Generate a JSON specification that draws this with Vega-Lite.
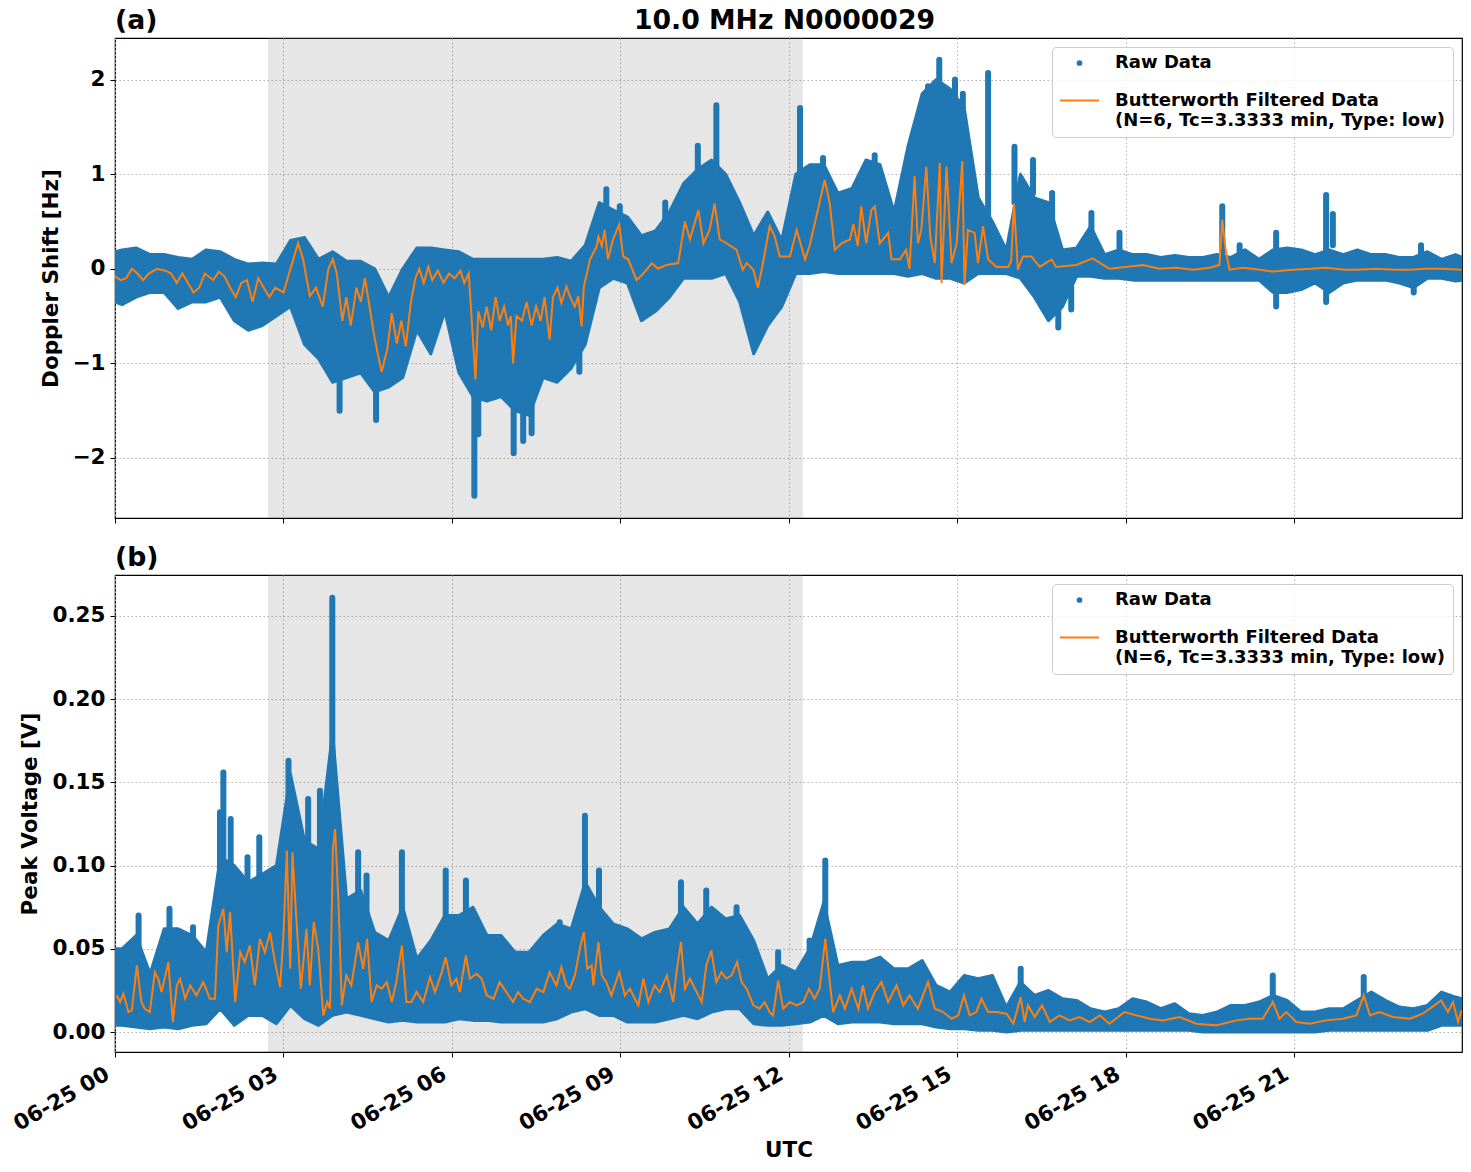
{
"$schema":"https://vega.github.io/schema/vega-lite/v6.json",
"background":"white",
"padding":{"left":9,"top":7,"right":9,"bottom":5},
"title":{"text":"10.0 MHz N0000029","anchor":"middle","frame":"group","offset":0,"dy":27,"dx":-4,"fontSize":26.7,"fontWeight":"bold","font":"DejaVu Sans","color":"black"},
"datasets":{
"shade":[{"s":2.725,"e":12.25}],
"topBand":[{"t":0,"lo":-0.35,"hi":0.18},{"t":0.125,"lo":-0.38,"hi":0.2},{"t":0.375,"lo":-0.3,"hi":0.22},{"t":0.625,"lo":-0.25,"hi":0.15},{"t":0.875,"lo":-0.25,"hi":0.15},{"t":1.125,"lo":-0.42,"hi":0.12},{"t":1.375,"lo":-0.35,"hi":0.1},{"t":1.625,"lo":-0.35,"hi":0.2},{"t":1.875,"lo":-0.3,"hi":0.18},{"t":2.125,"lo":-0.55,"hi":0.1},{"t":2.375,"lo":-0.65,"hi":0.05},{"t":2.625,"lo":-0.6,"hi":0.06},{"t":2.875,"lo":-0.5,"hi":0.05},{"t":3.125,"lo":-0.4,"hi":0.3},{"t":3.375,"lo":-0.8,"hi":0.33},{"t":3.625,"lo":-0.95,"hi":0.1},{"t":3.875,"lo":-1.2,"hi":0.18},{"t":4.125,"lo":-1.15,"hi":0.08},{"t":4.375,"lo":-1.1,"hi":0.08},{"t":4.625,"lo":-1.3,"hi":0.0},{"t":4.875,"lo":-1.25,"hi":-0.3},{"t":5.125,"lo":-1.15,"hi":0.0},{"t":5.375,"lo":-0.65,"hi":0.22},{"t":5.625,"lo":-0.9,"hi":0.22},{"t":5.875,"lo":-0.45,"hi":0.2},{"t":6.125,"lo":-1.1,"hi":0.18},{"t":6.375,"lo":-1.35,"hi":0.1},{"t":6.625,"lo":-1.4,"hi":0.1},{"t":6.875,"lo":-1.35,"hi":0.1},{"t":7.125,"lo":-1.5,"hi":0.1},{"t":7.375,"lo":-1.55,"hi":0.1},{"t":7.625,"lo":-1.15,"hi":0.1},{"t":7.875,"lo":-1.2,"hi":0.12},{"t":8.125,"lo":-1.05,"hi":0.08},{"t":8.375,"lo":-0.8,"hi":0.25},{"t":8.625,"lo":-0.2,"hi":0.7},{"t":8.875,"lo":-0.1,"hi":0.62},{"t":9.125,"lo":-0.15,"hi":0.55},{"t":9.375,"lo":-0.55,"hi":0.35},{"t":9.625,"lo":-0.45,"hi":0.4},{"t":9.875,"lo":-0.3,"hi":0.6},{"t":10.125,"lo":-0.1,"hi":0.9},{"t":10.375,"lo":-0.1,"hi":1.05},{"t":10.625,"lo":-0.1,"hi":1.15},{"t":10.875,"lo":-0.05,"hi":1.0},{"t":11.125,"lo":-0.35,"hi":0.7},{"t":11.375,"lo":-0.9,"hi":0.35},{"t":11.625,"lo":-0.6,"hi":0.6},{"t":11.875,"lo":-0.4,"hi":0.3},{"t":12.125,"lo":-0.05,"hi":1.0},{"t":12.375,"lo":-0.05,"hi":1.1},{"t":12.625,"lo":-0.03,"hi":1.1},{"t":12.875,"lo":-0.05,"hi":0.8},{"t":13.125,"lo":-0.05,"hi":0.85},{"t":13.375,"lo":-0.05,"hi":1.15},{"t":13.625,"lo":-0.05,"hi":1.1},{"t":13.875,"lo":-0.05,"hi":0.6},{"t":14.125,"lo":-0.08,"hi":1.3},{"t":14.375,"lo":-0.05,"hi":1.85},{"t":14.625,"lo":-0.1,"hi":2.0},{"t":14.875,"lo":-0.1,"hi":1.9},{"t":15.125,"lo":-0.15,"hi":1.7},{"t":15.375,"lo":-0.05,"hi":0.75},{"t":15.625,"lo":-0.05,"hi":0.5},{"t":15.875,"lo":-0.05,"hi":0.2},{"t":16.125,"lo":-0.1,"hi":1.0},{"t":16.375,"lo":-0.3,"hi":0.75},{"t":16.625,"lo":-0.55,"hi":0.7},{"t":16.875,"lo":-0.4,"hi":0.2},{"t":17.125,"lo":-0.08,"hi":0.22},{"t":17.375,"lo":-0.08,"hi":0.45},{"t":17.625,"lo":-0.1,"hi":0.15},{"t":17.875,"lo":-0.1,"hi":0.2},{"t":18.125,"lo":-0.12,"hi":0.15},{"t":18.375,"lo":-0.12,"hi":0.15},{"t":18.625,"lo":-0.12,"hi":0.12},{"t":18.875,"lo":-0.12,"hi":0.14},{"t":19.125,"lo":-0.12,"hi":0.12},{"t":19.375,"lo":-0.12,"hi":0.12},{"t":19.625,"lo":-0.12,"hi":0.15},{"t":19.875,"lo":-0.12,"hi":0.12},{"t":20.125,"lo":-0.12,"hi":0.2},{"t":20.375,"lo":-0.12,"hi":0.1},{"t":20.625,"lo":-0.25,"hi":0.2},{"t":20.875,"lo":-0.25,"hi":0.22},{"t":21.125,"lo":-0.22,"hi":0.2},{"t":21.375,"lo":-0.15,"hi":0.15},{"t":21.625,"lo":-0.25,"hi":0.2},{"t":21.875,"lo":-0.15,"hi":0.15},{"t":22.125,"lo":-0.12,"hi":0.2},{"t":22.375,"lo":-0.12,"hi":0.15},{"t":22.625,"lo":-0.12,"hi":0.15},{"t":22.875,"lo":-0.15,"hi":0.12},{"t":23.125,"lo":-0.2,"hi":0.12},{"t":23.375,"lo":-0.1,"hi":0.18},{"t":23.625,"lo":-0.1,"hi":0.1},{"t":23.875,"lo":-0.13,"hi":0.15},{"t":23.99,"lo":-0.12,"hi":0.12}],
"topSpike":[{"t":4.0,"lo":-1.5,"hi":-1.0},{"t":4.65,"lo":-1.6,"hi":-1.2},{"t":6.4,"lo":-2.4,"hi":-1.2},{"t":6.47,"lo":-1.75,"hi":-1.2},{"t":7.1,"lo":-1.95,"hi":-1.3},{"t":7.27,"lo":-1.82,"hi":-1.3},{"t":7.42,"lo":-1.74,"hi":-1.3},{"t":8.27,"lo":-1.09,"hi":-0.8},{"t":8.75,"lo":0.5,"hi":0.84},{"t":8.99,"lo":0.4,"hi":0.66},{"t":9.8,"lo":0.4,"hi":0.7},{"t":10.38,"lo":0.9,"hi":1.3},{"t":10.71,"lo":1.0,"hi":1.73},{"t":12.2,"lo":1.0,"hi":1.7},{"t":12.61,"lo":1.0,"hi":1.17},{"t":13.53,"lo":1.0,"hi":1.2},{"t":14.27,"lo":1.2,"hi":1.35},{"t":14.48,"lo":1.5,"hi":1.93},{"t":14.68,"lo":1.6,"hi":2.21},{"t":14.96,"lo":1.5,"hi":2.0},{"t":15.1,"lo":1.4,"hi":1.85},{"t":15.55,"lo":0.5,"hi":2.07},{"t":16.02,"lo":0.7,"hi":1.29},{"t":16.35,"lo":0.8,"hi":1.15},{"t":16.69,"lo":0.5,"hi":0.8},{"t":16.8,"lo":-0.62,"hi":-0.4},{"t":17.03,"lo":-0.43,"hi":-0.2},{"t":17.39,"lo":0.3,"hi":0.59},{"t":17.89,"lo":0.2,"hi":0.38},{"t":19.72,"lo":0.1,"hi":0.66},{"t":20.03,"lo":0.1,"hi":0.25},{"t":20.68,"lo":0.15,"hi":0.38},{"t":20.68,"lo":-0.4,"hi":-0.2},{"t":21.57,"lo":0.2,"hi":0.78},{"t":21.69,"lo":0.25,"hi":0.58},{"t":21.57,"lo":-0.35,"hi":-0.2},{"t":23.13,"lo":-0.25,"hi":-0.15},{"t":23.26,"lo":0.15,"hi":0.25}],
"topLine":[{"t":0.0,"f":-0.08},{"t":0.1,"f":-0.12},{"t":0.2,"f":-0.1},{"t":0.3,"f":0.0},{"t":0.4,"f":-0.05},{"t":0.5,"f":-0.12},{"t":0.6,"f":-0.05},{"t":0.75,"f":0.0},{"t":0.9,"f":-0.02},{"t":1.0,"f":-0.05},{"t":1.1,"f":-0.15},{"t":1.2,"f":-0.05},{"t":1.3,"f":-0.15},{"t":1.4,"f":-0.25},{"t":1.5,"f":-0.2},{"t":1.6,"f":-0.05},{"t":1.75,"f":-0.12},{"t":1.85,"f":-0.03},{"t":1.95,"f":-0.08},{"t":2.05,"f":-0.2},{"t":2.15,"f":-0.3},{"t":2.25,"f":-0.15},{"t":2.35,"f":-0.12},{"t":2.45,"f":-0.35},{"t":2.55,"f":-0.1},{"t":2.65,"f":-0.2},{"t":2.75,"f":-0.3},{"t":2.85,"f":-0.2},{"t":3.0,"f":-0.25},{"t":3.1,"f":-0.05},{"t":3.2,"f":0.15},{"t":3.26,"f":0.27},{"t":3.35,"f":0.1},{"t":3.47,"f":-0.29},{"t":3.58,"f":-0.2},{"t":3.7,"f":-0.4},{"t":3.8,"f":0.0},{"t":3.88,"f":0.1},{"t":3.95,"f":-0.05},{"t":4.05,"f":-0.55},{"t":4.12,"f":-0.3},{"t":4.2,"f":-0.6},{"t":4.3,"f":-0.2},{"t":4.38,"f":-0.35},{"t":4.45,"f":-0.1},{"t":4.52,"f":-0.35},{"t":4.6,"f":-0.65},{"t":4.68,"f":-0.9},{"t":4.75,"f":-1.09},{"t":4.85,"f":-0.85},{"t":4.93,"f":-0.47},{"t":5.02,"f":-0.79},{"t":5.1,"f":-0.55},{"t":5.18,"f":-0.82},{"t":5.27,"f":-0.35},{"t":5.35,"f":-0.1},{"t":5.42,"f":0.0},{"t":5.5,"f":-0.15},{"t":5.58,"f":0.02},{"t":5.65,"f":-0.12},{"t":5.75,"f":-0.02},{"t":5.85,"f":-0.15},{"t":5.95,"f":-0.05},{"t":6.05,"f":-0.1},{"t":6.15,"f":-0.02},{"t":6.22,"f":-0.15},{"t":6.3,"f":-0.05},{"t":6.37,"f":-0.7},{"t":6.42,"f":-1.17},{"t":6.47,"f":-0.45},{"t":6.55,"f":-0.62},{"t":6.62,"f":-0.4},{"t":6.7,"f":-0.65},{"t":6.78,"f":-0.3},{"t":6.85,"f":-0.55},{"t":6.93,"f":-0.4},{"t":7.0,"f":-0.6},{"t":7.05,"f":-0.5},{"t":7.09,"f":-1.0},{"t":7.15,"f":-0.5},{"t":7.25,"f":-0.55},{"t":7.33,"f":-0.35},{"t":7.42,"f":-0.6},{"t":7.5,"f":-0.4},{"t":7.58,"f":-0.55},{"t":7.65,"f":-0.3},{"t":7.74,"f":-0.75},{"t":7.8,"f":-0.3},{"t":7.88,"f":-0.2},{"t":7.95,"f":-0.36},{"t":8.04,"f":-0.19},{"t":8.1,"f":-0.29},{"t":8.19,"f":-0.4},{"t":8.25,"f":-0.29},{"t":8.31,"f":-0.61},{"t":8.35,"f":-0.19},{"t":8.46,"f":0.1},{"t":8.58,"f":0.24},{"t":8.61,"f":0.34},{"t":8.67,"f":0.24},{"t":8.72,"f":0.41},{"t":8.78,"f":0.1},{"t":8.87,"f":0.31},{"t":8.98,"f":0.47},{"t":9.05,"f":0.13},{"t":9.14,"f":0.1},{"t":9.29,"f":-0.12},{"t":9.41,"f":-0.05},{"t":9.56,"f":0.06},{"t":9.67,"f":0.0},{"t":9.82,"f":0.04},{"t":10.03,"f":0.06},{"t":10.15,"f":0.5},{"t":10.24,"f":0.31},{"t":10.39,"f":0.62},{"t":10.48,"f":0.27},{"t":10.59,"f":0.41},{"t":10.68,"f":0.69},{"t":10.77,"f":0.31},{"t":10.89,"f":0.27},{"t":11.07,"f":0.2},{"t":11.18,"f":-0.01},{"t":11.25,"f":0.06},{"t":11.37,"f":-0.01},{"t":11.45,"f":-0.2},{"t":11.54,"f":0.06},{"t":11.66,"f":0.45},{"t":11.75,"f":0.34},{"t":11.84,"f":0.13},{"t":12.02,"f":0.13},{"t":12.14,"f":0.41},{"t":12.29,"f":0.1},{"t":12.37,"f":0.24},{"t":12.49,"f":0.55},{"t":12.64,"f":0.94},{"t":12.73,"f":0.69},{"t":12.82,"f":0.2},{"t":12.94,"f":0.27},{"t":13.09,"f":0.31},{"t":13.15,"f":0.47},{"t":13.23,"f":0.24},{"t":13.29,"f":0.66},{"t":13.38,"f":0.27},{"t":13.47,"f":0.62},{"t":13.53,"f":0.66},{"t":13.62,"f":0.27},{"t":13.77,"f":0.38},{"t":13.83,"f":0.1},{"t":13.98,"f":0.1},{"t":14.09,"f":0.2},{"t":14.15,"f":0.0},{"t":14.24,"f":0.98},{"t":14.3,"f":0.27},{"t":14.36,"f":0.41},{"t":14.45,"f":1.08},{"t":14.52,"f":0.34},{"t":14.6,"f":0.06},{"t":14.69,"f":1.12},{"t":14.72,"f":-0.15},{"t":14.81,"f":1.08},{"t":14.9,"f":0.06},{"t":14.99,"f":0.27},{"t":15.09,"f":1.14},{"t":15.13,"f":-0.17},{"t":15.19,"f":0.41},{"t":15.31,"f":0.38},{"t":15.37,"f":0.06},{"t":15.46,"f":0.45},{"t":15.55,"f":0.1},{"t":15.7,"f":0.02},{"t":15.91,"f":0.02},{"t":15.96,"f":0.08},{"t":16.01,"f":0.69},{"t":16.08,"f":-0.01},{"t":16.17,"f":0.13},{"t":16.32,"f":0.13},{"t":16.47,"f":0.02},{"t":16.68,"f":0.1},{"t":16.76,"f":0.02},{"t":17.12,"f":0.04},{"t":17.41,"f":0.11},{"t":17.71,"f":0.0},{"t":18.0,"f":0.02},{"t":18.31,"f":0.04},{"t":18.6,"f":0.0},{"t":18.9,"f":0.01},{"t":19.2,"f":-0.01},{"t":19.5,"f":0.01},{"t":19.67,"f":0.04},{"t":19.72,"f":0.52},{"t":19.78,"f":0.2},{"t":19.85,"f":-0.01},{"t":20.09,"f":0.01},{"t":20.4,"f":-0.01},{"t":20.62,"f":-0.03},{"t":20.98,"f":-0.01},{"t":21.3,"f":0.0},{"t":21.57,"f":0.01},{"t":21.9,"f":-0.01},{"t":22.11,"f":-0.01},{"t":22.46,"f":0.0},{"t":22.8,"f":-0.01},{"t":23.06,"f":-0.01},{"t":23.35,"f":0.0},{"t":23.65,"f":0.0},{"t":23.98,"f":-0.01}],
"botBand":[{"t":0,"lo":0.004,"hi":0.05},{"t":0.125,"lo":0.004,"hi":0.05},{"t":0.375,"lo":0.003,"hi":0.058},{"t":0.625,"lo":0.002,"hi":0.035},{"t":0.875,"lo":0.003,"hi":0.062},{"t":1.125,"lo":0.002,"hi":0.062},{"t":1.375,"lo":0.004,"hi":0.058},{"t":1.625,"lo":0.005,"hi":0.048},{"t":1.875,"lo":0.014,"hi":0.105},{"t":2.125,"lo":0.004,"hi":0.1},{"t":2.375,"lo":0.01,"hi":0.09},{"t":2.625,"lo":0.01,"hi":0.095},{"t":2.875,"lo":0.005,"hi":0.1},{"t":3.125,"lo":0.016,"hi":0.155},{"t":3.375,"lo":0.008,"hi":0.115},{"t":3.625,"lo":0.004,"hi":0.11},{"t":3.875,"lo":0.01,"hi":0.18},{"t":4.125,"lo":0.012,"hi":0.08},{"t":4.375,"lo":0.01,"hi":0.085},{"t":4.625,"lo":0.008,"hi":0.06},{"t":4.875,"lo":0.006,"hi":0.055},{"t":5.125,"lo":0.007,"hi":0.075},{"t":5.375,"lo":0.006,"hi":0.044},{"t":5.625,"lo":0.006,"hi":0.055},{"t":5.875,"lo":0.006,"hi":0.07},{"t":6.125,"lo":0.008,"hi":0.07},{"t":6.375,"lo":0.007,"hi":0.075},{"t":6.625,"lo":0.007,"hi":0.058},{"t":6.875,"lo":0.006,"hi":0.058},{"t":7.125,"lo":0.006,"hi":0.048},{"t":7.375,"lo":0.006,"hi":0.048},{"t":7.625,"lo":0.006,"hi":0.058},{"t":7.875,"lo":0.008,"hi":0.065},{"t":8.125,"lo":0.012,"hi":0.062},{"t":8.375,"lo":0.014,"hi":0.09},{"t":8.625,"lo":0.01,"hi":0.075},{"t":8.875,"lo":0.01,"hi":0.065},{"t":9.125,"lo":0.006,"hi":0.062},{"t":9.375,"lo":0.006,"hi":0.056},{"t":9.625,"lo":0.006,"hi":0.06},{"t":9.875,"lo":0.008,"hi":0.062},{"t":10.125,"lo":0.01,"hi":0.075},{"t":10.375,"lo":0.008,"hi":0.065},{"t":10.625,"lo":0.012,"hi":0.075},{"t":10.875,"lo":0.014,"hi":0.068},{"t":11.125,"lo":0.014,"hi":0.07},{"t":11.375,"lo":0.005,"hi":0.055},{"t":11.625,"lo":0.004,"hi":0.032},{"t":11.875,"lo":0.004,"hi":0.04},{"t":12.125,"lo":0.005,"hi":0.036},{"t":12.375,"lo":0.006,"hi":0.05},{"t":12.625,"lo":0.01,"hi":0.078},{"t":12.875,"lo":0.005,"hi":0.04},{"t":13.125,"lo":0.006,"hi":0.042},{"t":13.375,"lo":0.006,"hi":0.042},{"t":13.625,"lo":0.006,"hi":0.045},{"t":13.875,"lo":0.005,"hi":0.038},{"t":14.125,"lo":0.005,"hi":0.038},{"t":14.375,"lo":0.005,"hi":0.043},{"t":14.625,"lo":0.003,"hi":0.028},{"t":14.875,"lo":0.002,"hi":0.024},{"t":15.125,"lo":0.002,"hi":0.034},{"t":15.375,"lo":0.001,"hi":0.032},{"t":15.625,"lo":0.001,"hi":0.034},{"t":15.875,"lo":0.0,"hi":0.015},{"t":16.125,"lo":0.001,"hi":0.03},{"t":16.375,"lo":0.001,"hi":0.022},{"t":16.625,"lo":0.001,"hi":0.025},{"t":16.875,"lo":0.001,"hi":0.02},{"t":17.125,"lo":0.001,"hi":0.019},{"t":17.375,"lo":0.001,"hi":0.014},{"t":17.625,"lo":0.001,"hi":0.012},{"t":17.875,"lo":0.001,"hi":0.014},{"t":18.125,"lo":0.001,"hi":0.02},{"t":18.375,"lo":0.001,"hi":0.018},{"t":18.625,"lo":0.001,"hi":0.014},{"t":18.875,"lo":0.001,"hi":0.017},{"t":19.125,"lo":0.001,"hi":0.011},{"t":19.375,"lo":0.0,"hi":0.01},{"t":19.625,"lo":0.0,"hi":0.012},{"t":19.875,"lo":0.0,"hi":0.016},{"t":20.125,"lo":0.0,"hi":0.016},{"t":20.375,"lo":0.0,"hi":0.018},{"t":20.625,"lo":0.0,"hi":0.022},{"t":20.875,"lo":0.0,"hi":0.019},{"t":21.125,"lo":0.0,"hi":0.012},{"t":21.375,"lo":0.0,"hi":0.012},{"t":21.625,"lo":0.001,"hi":0.014},{"t":21.875,"lo":0.001,"hi":0.014},{"t":22.125,"lo":0.001,"hi":0.019},{"t":22.375,"lo":0.001,"hi":0.024},{"t":22.625,"lo":0.001,"hi":0.019},{"t":22.875,"lo":0.001,"hi":0.015},{"t":23.125,"lo":0.001,"hi":0.014},{"t":23.375,"lo":0.001,"hi":0.016},{"t":23.625,"lo":0.004,"hi":0.024},{"t":23.875,"lo":0.004,"hi":0.021},{"t":23.99,"lo":0.004,"hi":0.02}],
"botSpike":[{"t":0.42,"lo":0.03,"hi":0.07},{"t":0.97,"lo":0.03,"hi":0.074},{"t":1.39,"lo":0.03,"hi":0.063},{"t":1.93,"lo":0.06,"hi":0.156},{"t":1.87,"lo":0.06,"hi":0.132},{"t":2.06,"lo":0.05,"hi":0.128},{"t":2.36,"lo":0.05,"hi":0.105},{"t":2.57,"lo":0.05,"hi":0.117},{"t":3.09,"lo":0.05,"hi":0.163},{"t":3.44,"lo":0.05,"hi":0.14},{"t":3.65,"lo":0.05,"hi":0.145},{"t":3.87,"lo":0.1,"hi":0.261},{"t":4.33,"lo":0.04,"hi":0.108},{"t":4.48,"lo":0.04,"hi":0.094},{"t":5.11,"lo":0.04,"hi":0.108},{"t":5.89,"lo":0.04,"hi":0.097},{"t":6.25,"lo":0.04,"hi":0.091},{"t":7.92,"lo":0.04,"hi":0.066},{"t":8.37,"lo":0.05,"hi":0.13},{"t":8.62,"lo":0.05,"hi":0.097},{"t":10.08,"lo":0.04,"hi":0.09},{"t":10.53,"lo":0.04,"hi":0.085},{"t":11.07,"lo":0.04,"hi":0.075},{"t":11.81,"lo":0.02,"hi":0.048},{"t":12.37,"lo":0.02,"hi":0.055},{"t":12.65,"lo":0.04,"hi":0.103},{"t":16.13,"lo":0.01,"hi":0.038},{"t":20.62,"lo":0.01,"hi":0.034},{"t":22.24,"lo":0.01,"hi":0.033}],
"botLine":[{"t":0.03,"f":0.022},{"t":0.09,"f":0.018},{"t":0.15,"f":0.023},{"t":0.24,"f":0.012},{"t":0.3,"f":0.013},{"t":0.39,"f":0.04},{"t":0.47,"f":0.018},{"t":0.53,"f":0.014},{"t":0.62,"f":0.012},{"t":0.71,"f":0.036},{"t":0.77,"f":0.032},{"t":0.83,"f":0.024},{"t":0.95,"f":0.042},{"t":1.03,"f":0.006},{"t":1.1,"f":0.028},{"t":1.16,"f":0.032},{"t":1.25,"f":0.02},{"t":1.34,"f":0.028},{"t":1.45,"f":0.022},{"t":1.57,"f":0.03},{"t":1.69,"f":0.02},{"t":1.78,"f":0.02},{"t":1.84,"f":0.064},{"t":1.93,"f":0.074},{"t":1.99,"f":0.048},{"t":2.05,"f":0.072},{"t":2.14,"f":0.018},{"t":2.23,"f":0.048},{"t":2.31,"f":0.042},{"t":2.4,"f":0.052},{"t":2.49,"f":0.028},{"t":2.58,"f":0.056},{"t":2.67,"f":0.048},{"t":2.76,"f":0.06},{"t":2.85,"f":0.042},{"t":2.94,"f":0.027},{"t":3.0,"f":0.058},{"t":3.06,"f":0.109},{"t":3.12,"f":0.038},{"t":3.16,"f":0.108},{"t":3.23,"f":0.068},{"t":3.31,"f":0.026},{"t":3.41,"f":0.062},{"t":3.47,"f":0.028},{"t":3.54,"f":0.066},{"t":3.62,"f":0.05},{"t":3.71,"f":0.01},{"t":3.78,"f":0.018},{"t":3.83,"f":0.014},{"t":3.88,"f":0.11},{"t":3.92,"f":0.122},{"t":3.98,"f":0.078},{"t":4.04,"f":0.016},{"t":4.12,"f":0.034},{"t":4.21,"f":0.028},{"t":4.33,"f":0.054},{"t":4.42,"f":0.038},{"t":4.49,"f":0.056},{"t":4.57,"f":0.018},{"t":4.66,"f":0.028},{"t":4.75,"f":0.026},{"t":4.84,"f":0.03},{"t":4.93,"f":0.018},{"t":5.01,"f":0.03},{"t":5.11,"f":0.052},{"t":5.19,"f":0.018},{"t":5.28,"f":0.018},{"t":5.37,"f":0.024},{"t":5.49,"f":0.018},{"t":5.61,"f":0.033},{"t":5.7,"f":0.024},{"t":5.82,"f":0.036},{"t":5.89,"f":0.045},{"t":5.99,"f":0.028},{"t":6.08,"f":0.032},{"t":6.14,"f":0.024},{"t":6.25,"f":0.046},{"t":6.32,"f":0.032},{"t":6.44,"f":0.035},{"t":6.53,"f":0.032},{"t":6.62,"f":0.022},{"t":6.74,"f":0.02},{"t":6.85,"f":0.03},{"t":6.97,"f":0.024},{"t":7.09,"f":0.018},{"t":7.18,"f":0.024},{"t":7.27,"f":0.02},{"t":7.39,"f":0.018},{"t":7.51,"f":0.026},{"t":7.63,"f":0.024},{"t":7.74,"f":0.036},{"t":7.86,"f":0.028},{"t":7.95,"f":0.039},{"t":8.04,"f":0.028},{"t":8.1,"f":0.026},{"t":8.19,"f":0.034},{"t":8.29,"f":0.052},{"t":8.35,"f":0.06},{"t":8.41,"f":0.038},{"t":8.49,"f":0.04},{"t":8.52,"f":0.028},{"t":8.61,"f":0.054},{"t":8.67,"f":0.034},{"t":8.75,"f":0.03},{"t":8.84,"f":0.022},{"t":8.98,"f":0.036},{"t":9.08,"f":0.022},{"t":9.17,"f":0.026},{"t":9.32,"f":0.016},{"t":9.41,"f":0.032},{"t":9.5,"f":0.018},{"t":9.61,"f":0.028},{"t":9.7,"f":0.024},{"t":9.83,"f":0.034},{"t":9.94,"f":0.018},{"t":10.0,"f":0.036},{"t":10.08,"f":0.054},{"t":10.15,"f":0.026},{"t":10.24,"f":0.032},{"t":10.36,"f":0.024},{"t":10.45,"f":0.018},{"t":10.53,"f":0.04},{"t":10.62,"f":0.049},{"t":10.71,"f":0.03},{"t":10.8,"f":0.036},{"t":10.89,"f":0.032},{"t":10.98,"f":0.034},{"t":11.08,"f":0.042},{"t":11.16,"f":0.03},{"t":11.25,"f":0.026},{"t":11.37,"f":0.016},{"t":11.48,"f":0.014},{"t":11.57,"f":0.018},{"t":11.66,"f":0.012},{"t":11.72,"f":0.01},{"t":11.81,"f":0.031},{"t":11.9,"f":0.014},{"t":12.02,"f":0.018},{"t":12.14,"f":0.016},{"t":12.26,"f":0.018},{"t":12.36,"f":0.026},{"t":12.46,"f":0.02},{"t":12.55,"f":0.026},{"t":12.65,"f":0.056},{"t":12.73,"f":0.03},{"t":12.79,"f":0.012},{"t":12.91,"f":0.022},{"t":13.0,"f":0.014},{"t":13.12,"f":0.026},{"t":13.24,"f":0.014},{"t":13.32,"f":0.028},{"t":13.41,"f":0.014},{"t":13.53,"f":0.024},{"t":13.65,"f":0.03},{"t":13.77,"f":0.018},{"t":13.92,"f":0.028},{"t":14.04,"f":0.016},{"t":14.15,"f":0.022},{"t":14.3,"f":0.014},{"t":14.48,"f":0.03},{"t":14.6,"f":0.014},{"t":14.75,"f":0.012},{"t":14.9,"f":0.008},{"t":15.02,"f":0.01},{"t":15.12,"f":0.022},{"t":15.22,"f":0.01},{"t":15.34,"f":0.012},{"t":15.43,"f":0.02},{"t":15.55,"f":0.012},{"t":15.7,"f":0.012},{"t":15.88,"f":0.011},{"t":16.0,"f":0.005},{"t":16.13,"f":0.021},{"t":16.2,"f":0.006},{"t":16.26,"f":0.016},{"t":16.38,"f":0.009},{"t":16.51,"f":0.016},{"t":16.65,"f":0.006},{"t":16.82,"f":0.01},{"t":17.0,"f":0.007},{"t":17.18,"f":0.009},{"t":17.36,"f":0.006},{"t":17.54,"f":0.01},{"t":17.71,"f":0.005},{"t":17.98,"f":0.012},{"t":18.19,"f":0.01},{"t":18.43,"f":0.008},{"t":18.66,"f":0.007},{"t":18.96,"f":0.009},{"t":19.26,"f":0.005},{"t":19.61,"f":0.004},{"t":19.97,"f":0.007},{"t":20.21,"f":0.008},{"t":20.44,"f":0.008},{"t":20.62,"f":0.018},{"t":20.74,"f":0.008},{"t":20.86,"f":0.012},{"t":21.04,"f":0.006},{"t":21.28,"f":0.005},{"t":21.57,"f":0.007},{"t":21.87,"f":0.008},{"t":22.11,"f":0.01},{"t":22.24,"f":0.022},{"t":22.35,"f":0.01},{"t":22.52,"f":0.012},{"t":22.76,"f":0.009},{"t":23.06,"f":0.008},{"t":23.29,"f":0.011},{"t":23.5,"f":0.016},{"t":23.62,"f":0.019},{"t":23.74,"f":0.012},{"t":23.83,"f":0.018},{"t":23.92,"f":0.006},{"t":23.98,"f":0.013}]
},
"vconcat":[
{
"width":1347,"height":480,
"title":{"text":"(a)","anchor":"start","frame":"group","offset":3},
"layer":[
{"data":{"name":"shade"},"mark":{"type":"rect","fill":"#808080","opacity":0.2},
 "encoding":{"x":{"field":"s","type":"quantitative","scale":{"domain":[0,23.99],"nice":false,"zero":false},"axis":{"values":[0,3,6,9,12,15,18,21],"labels":false,"title":null,"grid":true}},"x2":{"field":"e"}}},
{"data":{"name":"topBand"},"mark":{"type":"area","fill":"#1f77b4","stroke":"#1f77b4","strokeWidth":3,"strokeJoin":"round","clip":true,"opacity":1},
 "encoding":{"x":{"field":"t","type":"quantitative"},
  "y":{"field":"lo","type":"quantitative","scale":{"domain":[-2.635,2.44],"nice":false,"zero":false},"axis":{"values":[-2,-1,0,1,2],"format":"d","title":"Doppler Shift [Hz]","grid":true}},
  "y2":{"field":"hi"}}},
{"data":{"name":"topSpike"},"mark":{"type":"rule","stroke":"#1f77b4","strokeWidth":6,"strokeCap":"round","clip":true},
 "encoding":{"x":{"field":"t","type":"quantitative"},"y":{"field":"lo","type":"quantitative"},"y2":{"field":"hi"}}},
{"data":{"name":"topLine"},"mark":{"type":"line","stroke":"#ff7f0e","strokeWidth":2,"clip":true},
 "encoding":{"x":{"field":"t","type":"quantitative"},"y":{"field":"f","type":"quantitative"}}},
{"data":{"name":"shade"},"mark":{"type":"point","filled":true,"opacity":0,"strokeWidth":2},
 "encoding":{"x":{"field":"s","type":"quantitative"},
  "fill":{"datum":"Raw Data","type":"nominal","scale":{"domain":["Raw Data","Butterworth Filtered Data|(N=6, Tc=3.3333 min, Type: low)"],"range":["#1f77b4","#ff7f0e"]},"legend":{"title":null,"orient":"top-right","offset":9,"labelExpr":"split(datum.label, '|')"}},
  "stroke":{"datum":"Raw Data","type":"nominal","scale":{"domain":["Raw Data","Butterworth Filtered Data|(N=6, Tc=3.3333 min, Type: low)"],"range":["#1f77b4","#ff7f0e"]},"legend":{"title":null,"orient":"top-right","offset":9,"labelExpr":"split(datum.label, '|')"}},
  "shape":{"datum":"Raw Data","type":"nominal","scale":{"domain":["Raw Data","Butterworth Filtered Data|(N=6, Tc=3.3333 min, Type: low)"],"range":["circle","stroke"]},"legend":{"title":null,"orient":"top-right","offset":9,"labelExpr":"split(datum.label, '|')"}},
  "size":{"datum":"Raw Data","type":"nominal","scale":{"type":"ordinal","domain":["Raw Data","Butterworth Filtered Data|(N=6, Tc=3.3333 min, Type: low)"],"range":[14,1521]},"legend":{"title":null,"orient":"top-right","offset":9,"labelExpr":"split(datum.label, '|')"}}}}
]
},
{
"width":1347,"height":477,
"title":{"text":"(b)","anchor":"start","frame":"group","offset":3},
"layer":[
{"data":{"name":"shade"},"mark":{"type":"rect","fill":"#808080","opacity":0.2},
 "encoding":{"x":{"field":"s","type":"quantitative","scale":{"domain":[0,23.99],"nice":false,"zero":false},"axis":{"values":[0,3,6,9,12,15,18,21],"labelExpr":"'06-25 ' + (datum.value < 10 ? '0' + datum.value : datum.value)","labelAngle":-30,"labelAlign":"right","labelBaseline":"top","labelPadding":6,"labelOffset":-13,"title":"UTC","titlePadding":5,"grid":true}},"x2":{"field":"e"}}},
{"data":{"name":"botBand"},"mark":{"type":"area","fill":"#1f77b4","stroke":"#1f77b4","strokeWidth":3,"strokeJoin":"round","clip":true,"opacity":1},
 "encoding":{"x":{"field":"t","type":"quantitative"},
  "y":{"field":"lo","type":"quantitative","scale":{"domain":[-0.012,0.2746],"nice":false,"zero":false},"axis":{"values":[0,0.05,0.1,0.15,0.2,0.25],"format":".2f","title":"Peak Voltage [V]","grid":true}},
  "y2":{"field":"hi"}}},
{"data":{"name":"botSpike"},"mark":{"type":"rule","stroke":"#1f77b4","strokeWidth":6,"strokeCap":"round","clip":true},
 "encoding":{"x":{"field":"t","type":"quantitative"},"y":{"field":"lo","type":"quantitative"},"y2":{"field":"hi"}}},
{"data":{"name":"botLine"},"mark":{"type":"line","stroke":"#ff7f0e","strokeWidth":2,"clip":true},
 "encoding":{"x":{"field":"t","type":"quantitative"},"y":{"field":"f","type":"quantitative"}}},
{"data":{"name":"shade"},"mark":{"type":"point","filled":true,"opacity":0,"strokeWidth":2},
 "encoding":{"x":{"field":"s","type":"quantitative"},
  "fill":{"datum":"Raw Data","type":"nominal","scale":{"domain":["Raw Data","Butterworth Filtered Data|(N=6, Tc=3.3333 min, Type: low)"],"range":["#1f77b4","#ff7f0e"]},"legend":{"title":null,"orient":"top-right","offset":9,"labelExpr":"split(datum.label, '|')"}},
  "stroke":{"datum":"Raw Data","type":"nominal","scale":{"domain":["Raw Data","Butterworth Filtered Data|(N=6, Tc=3.3333 min, Type: low)"],"range":["#1f77b4","#ff7f0e"]},"legend":{"title":null,"orient":"top-right","offset":9,"labelExpr":"split(datum.label, '|')"}},
  "shape":{"datum":"Raw Data","type":"nominal","scale":{"domain":["Raw Data","Butterworth Filtered Data|(N=6, Tc=3.3333 min, Type: low)"],"range":["circle","stroke"]},"legend":{"title":null,"orient":"top-right","offset":9,"labelExpr":"split(datum.label, '|')"}},
  "size":{"datum":"Raw Data","type":"nominal","scale":{"type":"ordinal","domain":["Raw Data","Butterworth Filtered Data|(N=6, Tc=3.3333 min, Type: low)"],"range":[14,1521]},"legend":{"title":null,"orient":"top-right","offset":9,"labelExpr":"split(datum.label, '|')"}}}}
]
}
],
"spacing":19,
"resolve":{"scale":{"x":"independent","y":"independent","fill":"independent","stroke":"independent","shape":"independent","size":"independent"},"legend":{"fill":"independent","stroke":"independent","shape":"independent","size":"independent"}},
"config":{
 "font":"DejaVu Sans",
 "view":{"stroke":"black","strokeWidth":1.2},
 "axis":{"labelFont":"DejaVu Sans","labelFontWeight":"bold","labelFontSize":21.5,"labelColor":"black","titleFont":"DejaVu Sans","titleFontSize":21.5,"titleFontWeight":"bold","titleColor":"black","tickColor":"black","tickSize":5,"tickWidth":1,"domain":false,"gridColor":"#b0b0b0","gridDash":[1.5,2.5],"gridWidth":1,"labelPadding":5,"titlePadding":10},
 "title":{"fontSize":26.7,"fontWeight":"bold","font":"DejaVu Sans","color":"black"},
 "legend":{"labelFont":"DejaVu Sans","labelFontSize":18,"labelFontWeight":"bold","labelColor":"black","labelLimit":600,"labelOffset":15,"padding":7,"rowPadding":8,"fillColor":"rgba(255,255,255,0.8)","strokeColor":"#cccccc","cornerRadius":4,"symbolOpacity":1,"symbolStrokeWidth":2}
}
}
